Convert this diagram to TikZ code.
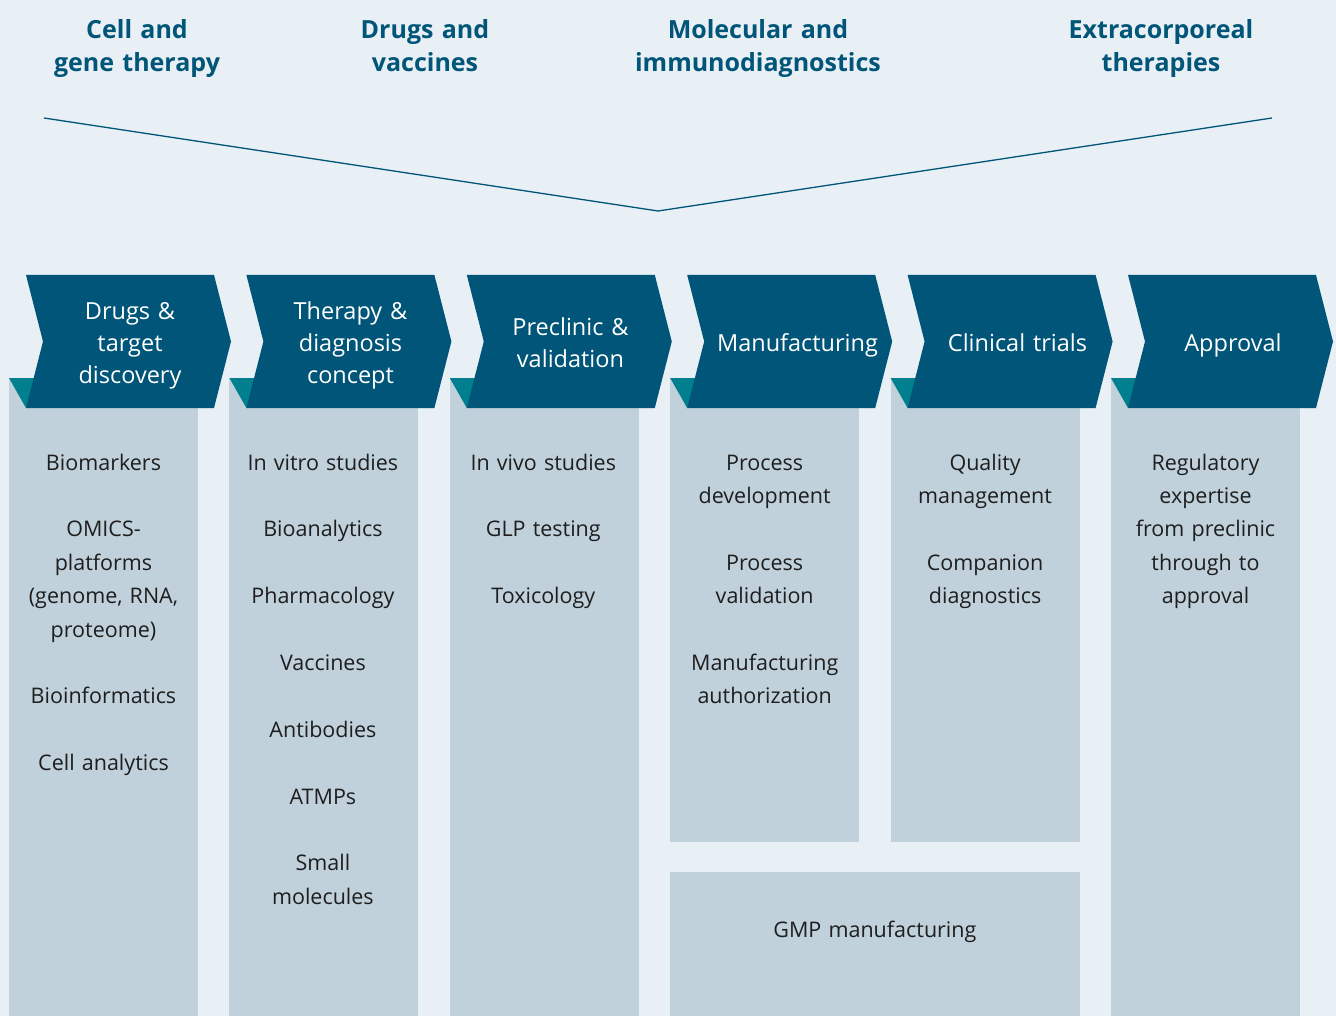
\documentclass[tikz,border=0pt]{standalone}
\usepackage{fontspec}
\setmainfont{Open Sans}
\definecolor{bgc}{RGB}{232,239,245}
\definecolor{navy}{RGB}{0,85,120}
\definecolor{tealc}{RGB}{0,128,143}
\definecolor{colc}{RGB}{192,209,219}
\definecolor{txtc}{RGB}{30,30,30}
\begin{document}
\begin{tikzpicture}[x=1pt,y=-1pt,
  colbox/.style={fill=colc},
  chev/.style={fill=navy},
  tri/.style={fill=tealc},
  head/.style={font=\fontsize{25}{33}\selectfont\bfseries, text=navy, align=center, text width=300pt, inner sep=0pt, anchor=base},
  chevtext/.style={font=\fontsize{23.5}{32}\selectfont, text=white, align=center, text width=200pt, inner sep=0pt, anchor=base},
  coltext/.style={font=\fontsize{21.5}{33.4}\selectfont, text=txtc, align=center, text width=200pt, inner sep=0pt, anchor=base}]
\useasboundingbox (0,0) rectangle (1336,1016);
\fill[bgc] (0,0) rectangle (1336,1016);
% headings
\node[head] (h1) at (137,38.5) {Cell and\\gene therapy};
\node[head] (h2) at (425,38.5) {Drugs and\\vaccines};
\node[head] (h3) at (758,38.5) {Molecular and\\immunodiagnostics};
\node[head] (h4) at (1161,38.5) {Extracorporeal\\therapies};
\coordinate (vl) at (44,118);
\coordinate (vm) at (658,211);
\coordinate (vr) at (1272,118);
\draw[navy, line width=1.3pt] (vl) -- (vm) -- (vr);
% columns
\fill[colbox] (9,378) rectangle (198,1016);
\fill[colbox] (229.4,378) rectangle (418.4,1016);
\fill[colbox] (449.8,378) rectangle (638.8,1016);
\fill[colbox] (670.2,378) rectangle (859.2,842);
\fill[colbox] (890.6,378) rectangle (1079.6,842);
\fill[colbox] (1111,378) rectangle (1300,1016);
\fill[colbox] (670.2,872) rectangle (1079.6,1016);
% triangles and chevrons
\foreach \L in {9,229.4,449.8,670.2,890.6,1111}{
  \fill[tri] (\L,378) -- (\L+30,378) -- (\L+17,408) -- cycle;
  \fill[chev] (\L+17,275) -- (\L+205,275) -- (\L+222,341.5) -- (\L+205,408) -- (\L+17,408) -- (\L+34,341.5) -- cycle;
}
\node[chevtext] (c1) at (130,319.5) {Drugs \&\\target\\discovery};
\node[chevtext] (c2) at (350.5,319.5) {Therapy \&\\diagnosis\\concept};
\node[chevtext] (c3) at (570.5,335.5) {Preclinic \&\\validation};
\node[chevtext] (c4) at (797.5,351.5) {Manufacturing};
\node[chevtext] (c5) at (1017.5,351.5) {Clinical trials};
\node[chevtext] (c6) at (1233,351.5) {Approval};
% column texts
\node[coltext] (t1) at (103.5,470) {Biomarkers\\[33.4pt]OMICS-\\platforms\\(genome, RNA,\\proteome)\\[33.4pt]Bioinformatics\\[33.4pt]Cell analytics};
\node[coltext] (t2) at (322.9,470) {In vitro studies\\[33.4pt]Bioanalytics\\[33.4pt]Pharmacology\\[33.4pt]Vaccines\\[33.4pt]Antibodies\\[33.4pt]ATMPs\\[33.4pt]Small\\molecules};
\node[coltext] (t3) at (543.3,470) {In vivo studies\\[33.4pt]GLP testing\\[33.4pt]Toxicology};
\node[coltext] (t4) at (764.7,470) {Process\\development\\[33.4pt]Process\\validation\\[33.4pt]Manufacturing\\authorization};
\node[coltext] (t5) at (985.1,470) {Quality\\management\\[33.4pt]Companion\\diagnostics};
\node[coltext] (t6) at (1205.5,470) {Regulatory\\expertise\\from preclinic\\through to\\approval};
\node[coltext, text width=380pt] (g) at (874.9,937) {GMP manufacturing};
\end{tikzpicture}
\end{document}
